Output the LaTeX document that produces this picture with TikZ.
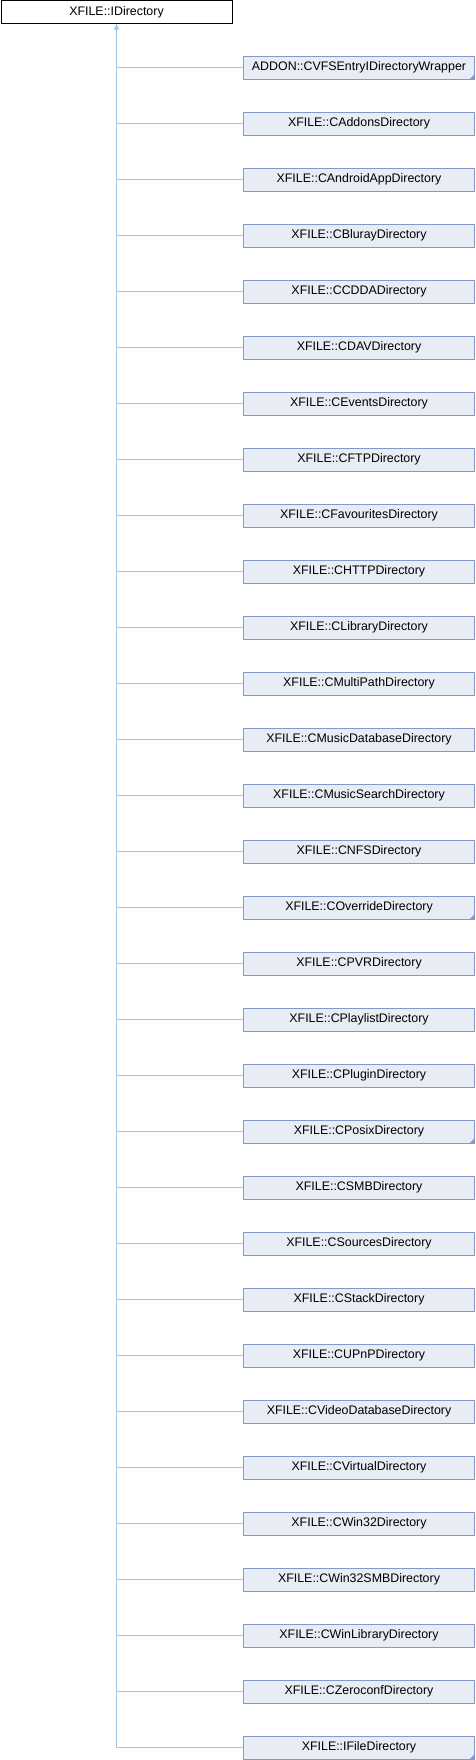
\documentclass[tikz,border=0pt]{standalone}
\usepackage{fontspec}
\setmainfont{Liberation Sans}
\usetikzlibrary{arrows.meta}
\definecolor{dirFill}{HTML}{E8ECF4}
\definecolor{dirDraw}{HTML}{8498CC}
\definecolor{dirLink}{HTML}{9CC8E8}
\tikzset{
  dirbase/.style={draw=black, fill=white, minimum width=231pt, minimum height=23pt, inner sep=0pt, font=\fontsize{12.4}{14}\selectfont},
  dirchild/.style={dirbase, draw=dirDraw, fill=dirFill},
  dirlink/.style={draw=dirLink, line width=0.8pt},
}
\newcommand{\dirFold}[1]{\fill[dirDraw] (#1.south east) -- ++(-5,0) -- ++(5,-5) -- cycle;}

\begin{document}
\begin{tikzpicture}[x=1pt,y=-1pt]
\useasboundingbox (0,0) rectangle (476,1760);
\node[dirbase] (iDir) at (116.5,12) {XFILE::IDirectory};
\node[dirchild] (vfsWrap) at (359,67.5) {ADDON::CVFSEntryIDirectoryWrapper};
\node[dirchild] (addonsDir) at (359,123.5) {XFILE::CAddonsDirectory};
\node[dirchild] (androidDir) at (359,179.5) {XFILE::CAndroidAppDirectory};
\node[dirchild] (blurayDir) at (359,235.5) {XFILE::CBlurayDirectory};
\node[dirchild] (cddaDir) at (359,291.5) {XFILE::CCDDADirectory};
\node[dirchild] (davDir) at (359,347.5) {XFILE::CDAVDirectory};
\node[dirchild] (eventsDir) at (359,403.5) {XFILE::CEventsDirectory};
\node[dirchild] (ftpDir) at (359,459.5) {XFILE::CFTPDirectory};
\node[dirchild] (favDir) at (359,515.5) {XFILE::CFavouritesDirectory};
\node[dirchild] (httpDir) at (359,571.5) {XFILE::CHTTPDirectory};
\node[dirchild] (libDir) at (359,627.5) {XFILE::CLibraryDirectory};
\node[dirchild] (multiDir) at (359,683.5) {XFILE::CMultiPathDirectory};
\node[dirchild] (musicDbDir) at (359,739.5) {XFILE::CMusicDatabaseDirectory};
\node[dirchild] (musicSearchDir) at (359,795.5) {XFILE::CMusicSearchDirectory};
\node[dirchild] (nfsDir) at (359,851.5) {XFILE::CNFSDirectory};
\node[dirchild] (overrideDir) at (359,907.5) {XFILE::COverrideDirectory};
\node[dirchild] (pvrDir) at (359,963.5) {XFILE::CPVRDirectory};
\node[dirchild] (playlistDir) at (359,1019.5) {XFILE::CPlaylistDirectory};
\node[dirchild] (pluginDir) at (359,1075.5) {XFILE::CPluginDirectory};
\node[dirchild] (posixDir) at (359,1131.5) {XFILE::CPosixDirectory};
\node[dirchild] (smbDir) at (359,1187.5) {XFILE::CSMBDirectory};
\node[dirchild] (sourcesDir) at (359,1243.5) {XFILE::CSourcesDirectory};
\node[dirchild] (stackDir) at (359,1299.5) {XFILE::CStackDirectory};
\node[dirchild] (upnpDir) at (359,1355.5) {XFILE::CUPnPDirectory};
\node[dirchild] (videoDbDir) at (359,1411.5) {XFILE::CVideoDatabaseDirectory};
\node[dirchild] (virtualDir) at (359,1467.5) {XFILE::CVirtualDirectory};
\node[dirchild] (win32Dir) at (359,1523.5) {XFILE::CWin32Directory};
\node[dirchild] (win32SmbDir) at (359,1579.5) {XFILE::CWin32SMBDirectory};
\node[dirchild] (winLibDir) at (359,1635.5) {XFILE::CWinLibraryDirectory};
\node[dirchild] (zeroconfDir) at (359,1691.5) {XFILE::CZeroconfDirectory};
\node[dirchild] (iFileDir) at (359,1747.5) {XFILE::IFileDirectory};
\dirFold{vfsWrap}
\dirFold{overrideDir}
\dirFold{posixDir}
\dirFold{iFileDir}
% trunk of the inheritance tree
\coordinate (trunkEnd) at (iDir.south |- iFileDir.west);
\draw[dirlink, -{Triangle[width=5pt,length=6pt]}, dirLink] (trunkEnd) -- (iDir.south);
\draw[dirlink] (vfsWrap.west) -- (vfsWrap.west -| iDir.south);
\draw[dirlink] (addonsDir.west) -- (addonsDir.west -| iDir.south);
\draw[dirlink] (androidDir.west) -- (androidDir.west -| iDir.south);
\draw[dirlink] (blurayDir.west) -- (blurayDir.west -| iDir.south);
\draw[dirlink] (cddaDir.west) -- (cddaDir.west -| iDir.south);
\draw[dirlink] (davDir.west) -- (davDir.west -| iDir.south);
\draw[dirlink] (eventsDir.west) -- (eventsDir.west -| iDir.south);
\draw[dirlink] (ftpDir.west) -- (ftpDir.west -| iDir.south);
\draw[dirlink] (favDir.west) -- (favDir.west -| iDir.south);
\draw[dirlink] (httpDir.west) -- (httpDir.west -| iDir.south);
\draw[dirlink] (libDir.west) -- (libDir.west -| iDir.south);
\draw[dirlink] (multiDir.west) -- (multiDir.west -| iDir.south);
\draw[dirlink] (musicDbDir.west) -- (musicDbDir.west -| iDir.south);
\draw[dirlink] (musicSearchDir.west) -- (musicSearchDir.west -| iDir.south);
\draw[dirlink] (nfsDir.west) -- (nfsDir.west -| iDir.south);
\draw[dirlink] (overrideDir.west) -- (overrideDir.west -| iDir.south);
\draw[dirlink] (pvrDir.west) -- (pvrDir.west -| iDir.south);
\draw[dirlink] (playlistDir.west) -- (playlistDir.west -| iDir.south);
\draw[dirlink] (pluginDir.west) -- (pluginDir.west -| iDir.south);
\draw[dirlink] (posixDir.west) -- (posixDir.west -| iDir.south);
\draw[dirlink] (smbDir.west) -- (smbDir.west -| iDir.south);
\draw[dirlink] (sourcesDir.west) -- (sourcesDir.west -| iDir.south);
\draw[dirlink] (stackDir.west) -- (stackDir.west -| iDir.south);
\draw[dirlink] (upnpDir.west) -- (upnpDir.west -| iDir.south);
\draw[dirlink] (videoDbDir.west) -- (videoDbDir.west -| iDir.south);
\draw[dirlink] (virtualDir.west) -- (virtualDir.west -| iDir.south);
\draw[dirlink] (win32Dir.west) -- (win32Dir.west -| iDir.south);
\draw[dirlink] (win32SmbDir.west) -- (win32SmbDir.west -| iDir.south);
\draw[dirlink] (winLibDir.west) -- (winLibDir.west -| iDir.south);
\draw[dirlink] (zeroconfDir.west) -- (zeroconfDir.west -| iDir.south);
\draw[dirlink] (iFileDir.west) -- (trunkEnd);
\end{tikzpicture}
\end{document}
